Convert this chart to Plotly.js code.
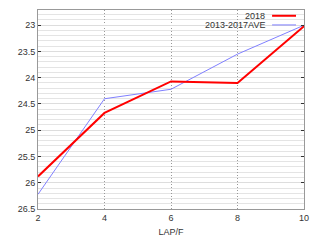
<!DOCTYPE html>
<html><head><meta charset="utf-8">
<script src="https://cdn.plot.ly/plotly-3.0.1.min.js"></script>
<style>html,body{margin:0;padding:0;background:#fff}#c{width:320px;height:240px}</style>
</head><body><div id="c"></div>
<script>
const laps = [2, 4, 6, 8, 10];
const series2018 = [25.88, 24.67, 24.07, 24.10, 23.02];
const seriesAve = [26.22, 24.40, 24.22, 23.55, 23.0];
const names = ["2018", "2013-2017AVE"];
const colors = ["#ff0000", "#8080ff"];

const traces = [
  {x: laps, y: seriesAve, mode: "lines", name: names[1], line: {color: colors[1], width: 1}},
  {x: laps, y: series2018, mode: "lines", name: names[0], line: {color: colors[0], width: 2}}
];
const font = {family: "Liberation Sans, Arial, sans-serif", size: 9, color: "#333"};
const layout = {
  width: 320, height: 240,
  margin: {l: 38, r: 16, t: 10, b: 31},
  paper_bgcolor: "#fff", plot_bgcolor: "#fff",
  showlegend: false,
  font: font,
  xaxis: {range: [2, 10], tickvals: laps, ticktext: laps.map(String),
    showgrid: true, gridcolor: "#999", griddash: "1px,2px", gridwidth: 1,
    zeroline: false, showline: true, linecolor: "#999", mirror: true,
    ticks: "", tickfont: font,
    title: {text: "LAP/F", font: font, standoff: 6}},
  yaxis: {range: [26.5, 22.71], dtick: 0.5, tick0: 23,
    showgrid: true, gridcolor: "#ddd", gridwidth: 1,
    minor: {dtick: 0.1, showgrid: true, gridcolor: "#e4e4e4", ticks: ""},
    zeroline: false, showline: true, linecolor: "#999", mirror: "ticks",
    ticks: "inside", ticklen: 3, tickcolor: "#333", tickfont: font},
  shapes: [
    {type: "rect", xref: "paper", yref: "paper", x0: 0.635, x1: 0.985, y0: 0.905, y1: 0.998,
      fillcolor: "#fff", line: {width: 0}, layer: "between"},
    {type: "line", xref: "paper", yref: "paper", x0: 0.88, x1: 0.97, y0: 0.971, y1: 0.971,
      line: {color: colors[0], width: 2}, layer: "above"},
    {type: "line", xref: "paper", yref: "paper", x0: 0.88, x1: 0.97, y0: 0.925, y1: 0.925,
      line: {color: colors[1], width: 1}, layer: "above"}
  ],
  annotations: [
    {xref: "paper", yref: "paper", x: 0.857, y: 0.971, xanchor: "right", yanchor: "middle",
      text: names[0], showarrow: false, font: font, borderpad: 0},
    {xref: "paper", yref: "paper", x: 0.857, y: 0.925, xanchor: "right", yanchor: "middle",
      text: names[1], showarrow: false, font: font, borderpad: 0}
  ]
};
Plotly.newPlot("c", traces, layout, {displayModeBar: false, staticPlot: true});
</script></body></html>
